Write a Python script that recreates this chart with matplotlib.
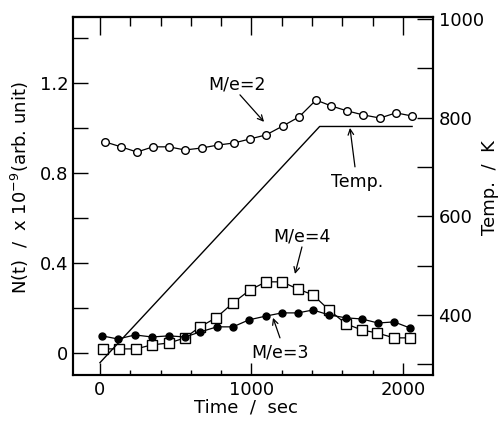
import matplotlib
matplotlib.use("Agg")
import matplotlib.pyplot as plt
from matplotlib.ticker import MultipleLocator

# ---- data ----
t_me2 = [33, 139, 244, 350, 455, 561, 673, 779, 884, 990, 1096, 1208, 1314, 1426,
         1525, 1630, 1736, 1848, 1954, 2059]
n_me2 = [0.938, 0.916, 0.893, 0.916, 0.916, 0.902, 0.911, 0.924, 0.933, 0.951,
         0.969, 1.009, 1.049, 1.124, 1.098, 1.076, 1.058, 1.044, 1.067, 1.053]

t_me4 = [20, 125, 238, 343, 455, 561, 660, 766, 878, 990, 1096, 1201, 1307, 1406,
         1512, 1624, 1729, 1828, 1941, 2046]
n_me4 = [0.018, 0.018, 0.018, 0.036, 0.044, 0.067, 0.116, 0.156, 0.222, 0.280,
         0.316, 0.316, 0.284, 0.258, 0.191, 0.129, 0.102, 0.089, 0.067, 0.067]

t_me3 = [13, 119, 231, 343, 455, 561, 660, 772, 878, 983, 1096, 1201, 1307, 1406,
         1512, 1624, 1729, 1835, 1941, 2046]
n_me3 = [0.076, 0.062, 0.080, 0.071, 0.076, 0.071, 0.093, 0.116, 0.116, 0.147,
         0.164, 0.178, 0.178, 0.191, 0.169, 0.156, 0.151, 0.133, 0.138, 0.111]

t_temp = [0, 1450, 2060]
temp_K = [303, 782, 782]

left_ticks = [0, 0.2, 0.4, 0.6, 0.8, 1.0, 1.2, 1.4]
left_labels = ['0', '', '0.4', '', '0.8', '', '1.2', '']
right_ticks = [300, 400, 500, 600, 700, 800, 900, 1000]
right_labels = ['', '400', '', '600', '', '800', '', '1000']
x_major = [0, 1000, 2000]
x_labels = ['0', '1000', '2000']

plt.rcParams['font.family'] = ['DejaVu Sans']
FS = 13

W, H = 501, 422
fig = plt.figure(figsize=(W / 100, H / 100), dpi=100)
L, R, T, B = 73, 433, 17, 375
ax = fig.add_axes([L / W, 1 - B / H, (R - L) / W, (B - T) / H])
ax2 = ax.twinx()

lw_sp = 1.5
for a in (ax, ax2):
    for s in a.spines.values():
        s.set_linewidth(lw_sp)

ax.plot(t_me2, n_me2, '-o', color='black', lw=0.9, ms=5.5, mfc='white', mec='black', mew=1.0, zorder=3)
ax.plot(t_me4, n_me4, '-s', color='black', lw=0.9, ms=6.5, mfc='white', mec='black', mew=1.0, zorder=3)
ax.plot(t_me3, n_me3, '-o', color='black', lw=0.9, ms=5, mfc='black', mec='black', zorder=4)
ax2.plot(t_temp, temp_K, '-', color='black', lw=1.0)

ax.set_xlim(-178, 2198)
ax.set_ylim(-0.098, 1.493)
ax2.set_ylim(278, 1004)

ax.set_xticks(x_major)
ax.set_xticklabels(x_labels, fontsize=FS)
ax.xaxis.set_minor_locator(MultipleLocator(200))
ax.tick_params(axis='x', which='major', direction='in', length=8.6, width=1.0, pad=4.5, top=False)
ax.tick_params(axis='x', which='minor', direction='in', length=3.6, width=1.0, top=False)

ax.set_yticks(left_ticks)
ax.set_yticklabels(left_labels, fontsize=FS)
ax.tick_params(axis='y', which='major', direction='in', length=10.8, width=1.0, pad=3.5, right=False)

ax2.set_yticks(right_ticks)
ax2.set_yticklabels(right_labels, fontsize=FS)
ax2.tick_params(axis='y', which='major', direction='in', length=11.5, width=1.0, pad=4.0)

sec = ax.secondary_xaxis('top')
sec.set_xticks(x_major)
sec.xaxis.set_ticklabels([])
sec.xaxis.set_minor_locator(MultipleLocator(200))
sec.tick_params(which='major', direction='in', length=13, width=1.0)
sec.tick_params(which='minor', direction='in', length=6.5, width=1.0)
sec.spines['top'].set_linewidth(lw_sp)

# axis labels
fig.text(246 / W, 1 - 407 / H, 'Time  /  sec', ha='center', va='center', fontsize=FS)
fig.text(20 / W, 1 - 188 / H, 'N(t)  /  x 10$^{-9}$(arb. unit)', ha='center', va='center',
         rotation=90, fontsize=FS)
fig.text(490 / W, 1 - 188 / H, 'Temp.  /  K', ha='center', va='center', rotation=90, fontsize=FS)

# annotations
ap = dict(arrowstyle='->', lw=0.9, color='black', shrinkA=0, shrinkB=0, mutation_scale=10)
ax.annotate('', xy=(1083, 1.027), xytext=(924, 1.147), arrowprops=ap)
ax.text(904, 1.191, 'M/e=2', ha='center', va='center', fontsize=12.5)
ax.annotate('', xy=(1650, 1.0), xytext=(1683, 0.827), arrowprops=ap)
ax.text(1696, 0.76, 'Temp.', ha='center', va='center', fontsize=12.5)
ax.annotate('', xy=(1287, 0.351), xytext=(1333, 0.471), arrowprops=ap)
ax.text(1333, 0.516, 'M/e=4', ha='center', va='center', fontsize=12.5)
ax.annotate('', xy=(1142, 0.156), xytext=(1188, 0.067), arrowprops=ap)
ax.text(1188, 0.004, 'M/e=3', ha='center', va='center', fontsize=12.5)

fig.savefig('out.png', dpi=100)
